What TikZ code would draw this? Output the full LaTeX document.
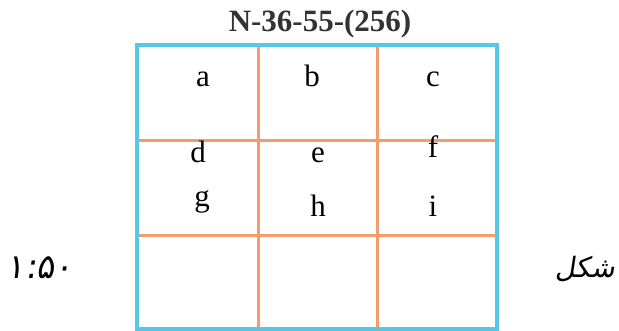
\documentclass[tikz,border=0pt]{standalone}
\usepackage{fontspec}
\setmainfont{Liberation Serif}
\newfontfamily\arabicfont[Script=Arabic,FakeSlant=0.15]{DejaVu Sans}
\TeXXeTstate=1
\usetikzlibrary{positioning}
\definecolor{borderblue}{HTML}{55C8E8}
\definecolor{gridorange}{HTML}{F49C6C}
\definecolor{titlegray}{HTML}{333333}

\begin{document}
\begin{tikzpicture}[x=1pt, y=-1pt,
    cell/.style={anchor=base, inner sep=0pt, font=\fontsize{31}{31}\selectfont},
    title/.style={anchor=base, inner sep=0pt, text=titlegray, font=\fontsize{31}{31}\selectfont\bfseries},
    note/.style={inner sep=0pt, font=\fontsize{28}{28}\selectfont\arabicfont},
    gridline/.style={draw=gridorange, line width=3pt},
    frame/.style={draw=borderblue, line width=4pt}
]
\useasboundingbox (0,0) rectangle (619,331);
% sheet grid
\draw[gridline] (258,45) -- (258,329);
\draw[gridline] (377,45) -- (377,329);
\draw[gridline] (137,141) -- (497,141);
\draw[gridline] (137,236) -- (497,236);
\draw[frame] (137,45) rectangle (497,329);
% sheet number
\node[title] (sheet) at (320,32) {N-36-55-(256)};
% cell labels
\node[cell] (a) at (203,87) {a};
\node[cell] (b) at (312,87) {b};
\node[cell] (c) at (433,87) {c};
\node[cell] (d) at (198,163) {d};
\node[cell] (e) at (318,163) {e};
\node[cell] (f) at (433,158) {f};
\node[cell] (g) at (202,207) {g};
\node[cell] (h) at (318,217) {h};
\node[cell] (i) at (433,217) {i};
% captions
\node[note] (shape) at (585,269) {\beginR شکل\endR};
\node[note, font=\fontsize{34}{34}\selectfont\arabicfont] (scale) at (40,268) {\beginR ۱:۵۰\endR};
\end{tikzpicture}
\end{document}
